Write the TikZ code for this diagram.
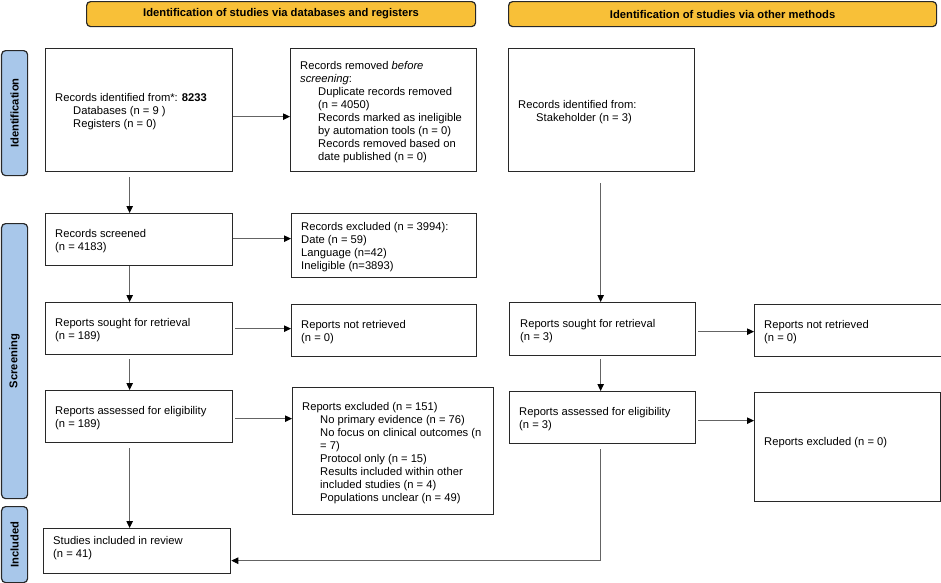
\documentclass[tikz,border=0pt]{standalone}
\usepackage{fontspec}
\setmainfont{Liberation Sans}
\usetikzlibrary{arrows.meta}
\definecolor{hdr}{RGB}{248,192,56}
\definecolor{side}{RGB}{168,199,234}
\definecolor{edge}{RGB}{40,40,40}
\definecolor{arrgray}{RGB}{100,100,100}
\tikzset{
  box/.style={draw=edge, line width=1.3pt, fill=white, inner sep=0pt},
  hdrbox/.style={draw=edge, line width=1.2pt, fill=hdr, rounded corners=4pt, inner sep=0pt,
     font=\fontsize{11.2}{13}\selectfont\bfseries},
  sidebox/.style={draw=edge, line width=1.2pt, fill=side, rounded corners=4pt, inner sep=0pt},
  sidetxt/.style={rotate=90, font=\fontsize{11.2}{13}\selectfont\bfseries, inner sep=0pt},
  txt/.style={anchor=north west, align=left, inner sep=0pt, font=\fontsize{11.2}{13}\selectfont},
  arr/.style={draw=arrgray, line width=0.9pt, -{Triangle[length=7pt,width=6.5pt,color=black,fill=black]}},
}
\newcommand{\bx}[5]{\node[box, minimum width=#4-#2, minimum height=#5-#3, anchor=north west] (#1) at (#2,#3) {};}
\newcommand{\ind}{\hspace*{18pt}}
\begin{document}
\begin{tikzpicture}[x=1pt,y=-1pt]
\useasboundingbox (0,0) rectangle (941,582);
% headers
\node[hdrbox, minimum width=389, minimum height=25, anchor=north west] (h1) at (86,1) {Identification of studies via databases and registers};
\node[hdrbox, minimum width=428, minimum height=25, anchor=north west] (h2) at (508,1) {Identification of studies via other methods};
% side labels
\node[sidebox, minimum width=26, minimum height=125, anchor=north west] (s1) at (1,50) {};
\node[sidetxt] (s1t) at (s1.center) {Identification};
\node[sidebox, minimum width=26, minimum height=275, anchor=north west] (s2) at (1,223) {};
\node[sidetxt] (s2t) at (s2.center) {Screening};
\node[sidebox, minimum width=26, minimum height=76, anchor=north west] (s3) at (1,506) {};
\node[sidetxt] (s3t) at (s3.center) {Included};
% boxes left column
\bx{A}{45}{48}{232}{171}
\bx{B}{290}{48}{476}{171}
\bx{C}{508}{48}{694}{171}
\bx{scr}{45}{213}{232}{265}
\bx{exc}{291}{213}{476}{277}
\bx{sou}{45}{302}{232}{354}
\bx{nrt}{291}{304}{476}{356}
\bx{ass}{45}{390}{232}{442}
\bx{rex}{292}{387}{493}{514}
\bx{inc}{43}{528}{230}{573}
% right column
\bx{rsou}{509}{302}{695}{355}
\bx{rnrt}{754}{304}{941}{356}
\bx{rass}{509}{391}{695}{443}
\bx{rrex}{754}{392}{940}{501}
% texts
\node[txt] (tA) at (55,93) {Records identified from*: \textbf{8233}\\\ind Databases (n = 9 )\\\ind Registers (n = 0)};
\node[txt] (tB) at (300,61) {Records removed \textit{before}\\\textit{screening}:\\\ind Duplicate records removed\\\ind (n = 4050)\\\ind Records marked as ineligible\\\ind by automation tools (n = 0)\\\ind Records removed based on\\\ind date published (n = 0)};
\node[txt] (tC) at (518,100) {Records identified from:\\\ind Stakeholder (n = 3)};
\node[txt] (tscr) at (55,229) {Records screened\\(n = 4183)};
\node[txt] (texc) at (301,222) {Records excluded (n = 3994):\\Date (n = 59)\\Language (n=42)\\Ineligible (n=3893)};
\node[txt] (tsou) at (55,318) {Reports sought for retrieval\\(n = 189)};
\node[txt] (tnrt) at (301,320) {Reports not retrieved\\(n = 0)};
\node[txt] (tass) at (55,406) {Reports assessed for eligibility\\(n = 189)};
\node[txt] (trex) at (302,402) {Reports excluded (n = 151)\\\ind No primary evidence (n = 76)\\\ind No focus on clinical outcomes (n\\\ind = 7)\\\ind Protocol only (n = 15)\\\ind Results included within other\\\ind included studies (n = 4)\\\ind Populations unclear (n = 49)};
\node[txt] (tinc) at (53,536) {Studies included in review\\(n = 41)};
\node[txt] (trsou) at (520,319) {Reports sought for retrieval\\(n = 3)};
\node[txt] (trnrt) at (764,320) {Reports not retrieved\\(n = 0)};
\node[txt] (trass) at (519,407) {Reports assessed for eligibility\\(n = 3)};
\node[txt] (trrex) at (764,437) {Reports excluded (n = 0)};
% arrows
\draw[arr] ([yshift=-6.5pt]A.east) -- ([yshift=-6.5pt]B.west);
\draw[arr] ([xshift=-9.5pt,yshift=-5pt]A.south) -- ([xshift=-9.5pt]scr.north);
\draw[arr] ([yshift=1pt]scr.east) -- ([yshift=7pt]exc.west);
\draw[arr] ([xshift=-9.5pt]scr.south) -- ([xshift=-9.5pt]sou.north);
\draw[arr] ([xshift=2pt,yshift=-0pt]sou.east) -- ([yshift=2pt]nrt.west);
\draw[arr] ([xshift=-9.5pt,yshift=-4pt]sou.south) -- ([xshift=-9.5pt]ass.north);
\draw[arr] ([xshift=2pt,yshift=-2pt]ass.east) -- ([yshift=32.5pt]rex.west);
\draw[arr] ([xshift=-9.5pt,yshift=-5pt]ass.south) -- ([xshift=-7.5pt]inc.north);
\draw[arr] ([xshift=-1pt,yshift=-11pt]C.south) -- ([xshift=-2pt]rsou.north);
\draw[arr] ([xshift=2pt,yshift=-2.5pt]rsou.east) -- ([yshift=-1pt]rnrt.west);
\draw[arr] ([xshift=-2pt,yshift=-3pt]rsou.south) -- ([xshift=-2pt]rass.north);
\draw[arr] ([xshift=2pt,yshift=-3pt]rass.east) -- ([yshift=26.5pt]rrex.west);
\draw[arr] ([xshift=-2pt,yshift=-5pt]rass.south) |- ([yshift=-9.5pt]inc.east);
\end{tikzpicture}
\end{document}
